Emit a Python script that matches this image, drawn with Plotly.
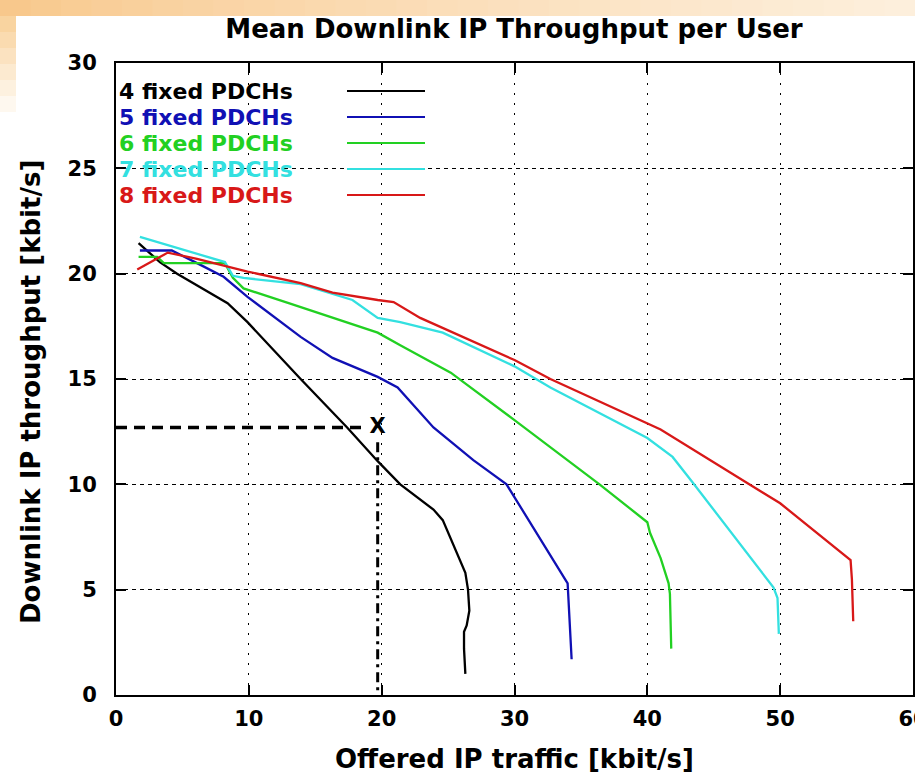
import plotly.graph_objects as go

# Offered IP traffic [kbit/s] vs. mean downlink IP throughput per user [kbit/s]
pdch4_x = [1.7, 3.3, 4.6, 8.4, 9.9, 13.9, 17.4, 19.7, 21.4, 23.9, 24.6, 26.3, 26.5, 26.6, 26.4, 26.2, 26.2, 26.3]
pdch4_y = [21.45, 20.55, 20.0, 18.6, 17.7, 15.0, 12.7, 11.1, 10.0, 8.8, 8.3, 5.8, 5.0, 4.0, 3.3, 3.0, 2.2, 1.0]

pdch5_x = [1.8, 4.2, 6.1, 8.1, 9.9, 13.9, 16.3, 19.7, 21.2, 23.9, 26.9, 29.4, 34.0, 34.1, 34.2, 34.3]
pdch5_y = [21.1, 21.1, 20.5, 19.85, 18.9, 17.0, 16.0, 15.1, 14.6, 12.7, 11.15, 10.0, 5.3, 4.0, 2.3, 1.7]

pdch6_x = [1.7, 3.1, 3.6, 8.2, 8.8, 9.6, 13.0, 16.3, 19.7, 21.4, 25.2, 30.0, 34.0, 36.4, 40.0, 40.2, 41.0, 41.6, 41.7, 41.8]
pdch6_y = [20.8, 20.8, 20.5, 20.5, 19.8, 19.3, 18.6, 17.9, 17.2, 16.6, 15.3, 13.05, 11.15, 10.0, 8.2, 7.7, 6.5, 5.3, 4.8, 2.2]

pdch7_x = [1.8, 8.2, 8.8, 9.6, 13.9, 17.8, 19.7, 21.4, 24.6, 30.0, 32.7, 40.0, 41.9, 43.4, 49.5, 49.8, 49.9]
pdch7_y = [21.75, 20.55, 19.9, 19.8, 19.5, 18.75, 17.9, 17.7, 17.2, 15.6, 14.6, 12.2, 11.3, 10.1, 5.1, 4.6, 2.9]

pdch8_x = [1.6, 3.9, 6.1, 9.9, 13.9, 16.3, 19.7, 20.9, 22.9, 30.0, 32.7, 40.0, 41.0, 50.0, 55.3, 55.4, 55.5]
pdch8_y = [20.2, 21.0, 20.7, 20.1, 19.55, 19.1, 18.75, 18.65, 17.9, 15.9, 15.0, 12.9, 12.6, 9.1, 6.4, 5.5, 3.5]

series_names = ["4 fixed PDCHs", "5 fixed PDCHs", "6 fixed PDCHs", "7 fixed PDCHs", "8 fixed PDCHs"]
series_x = [pdch4_x, pdch5_x, pdch6_x, pdch7_x, pdch8_x]
series_y = [pdch4_y, pdch5_y, pdch6_y, pdch7_y, pdch8_y]
series_colors = ["#000000", "#1010b4", "#22d022", "#33e0e0", "#d81818"]

# operating point
op_x = 19.7
op_y = 12.7
op_hline_end = 18.6
op_vline_top = 12.0

x_ticks = [0, 10, 20, 30, 40, 50, 60]
y_ticks = [0, 5, 10, 15, 20, 25, 30]

FONT = "DejaVu Sans"

fig = go.Figure()

# guide lines to the operating point
fig.add_trace(go.Scatter(
    x=[0, op_hline_end], y=[op_y, op_y], mode="lines",
    line=dict(color="black", width=3.5, dash="11px,7px"),
    hoverinfo="skip", showlegend=False))
fig.add_trace(go.Scatter(
    x=[op_x, op_x], y=[op_vline_top, 0], mode="lines",
    line=dict(color="black", width=3, dash="10px,5px,3px,5px"),
    hoverinfo="skip", showlegend=False))

for name, xs, ys, col in zip(series_names, series_x, series_y, series_colors):
    fig.add_trace(go.Scatter(
        x=xs, y=ys, mode="lines", name=name,
        line=dict(color=col, width=2.3), showlegend=False))

fig.add_trace(go.Scatter(
    x=[op_x], y=[op_y], mode="text", text=["X"],
    textfont=dict(family=FONT, size=21, color="black", weight="bold"),
    textposition="middle center", hoverinfo="skip", showlegend=False))

# plot geometry in pixels
W, H = 915, 775
L, R, T, B = 116, 2, 63, 80
PW, PH = W - L - R, H - T - B


def px_to_paper_x(px):
    return (px - L) / PW


def px_to_paper_y(py):
    return (H - B - py) / PH


shapes = []

# warm slide-background corner (top band and left strip)
def mix(c1, c2, t):
    return "rgb(%d,%d,%d)" % tuple(round(a + (b - a) * t) for a, b in zip(c1, c2))

c_left = (248, 200, 140)
c_right = (253, 240, 222)
n_seg = 30
for i in range(n_seg):
    x0 = W * i / n_seg
    x1 = W * (i + 1) / n_seg + 1
    shapes.append(dict(type="rect", xref="paper", yref="paper", layer="below",
                       x0=px_to_paper_x(x0), x1=px_to_paper_x(x1),
                       y0=px_to_paper_y(16), y1=px_to_paper_y(0),
                       line=dict(width=0), fillcolor=mix(c_left, c_right, (i / n_seg) ** 0.8)))
for j in range(6):
    y0 = 16 + j * 16
    shapes.append(dict(type="rect", xref="paper", yref="paper", layer="below",
                       x0=px_to_paper_x(0), x1=px_to_paper_x(16),
                       y0=px_to_paper_y(y0 + 16), y1=px_to_paper_y(y0),
                       line=dict(width=0),
                       fillcolor=mix((249, 212, 160), (255, 255, 255), j / 6)))

# opaque key box
shapes.append(dict(type="rect", xref="paper", yref="paper", layer="between",
                   x0=px_to_paper_x(117), x1=px_to_paper_x(440),
                   y0=px_to_paper_y(208), y1=px_to_paper_y(64),
                   line=dict(width=0), fillcolor="white"))

annotations = []
key_rows = [91, 117, 143, 169, 195]
for name, col, py in zip(series_names, series_colors, key_rows):
    annotations.append(dict(
        text=name, xref="paper", yref="paper",
        x=px_to_paper_x(117), y=px_to_paper_y(py),
        xanchor="left", yanchor="middle", showarrow=False,
        font=dict(family=FONT, size=22, color=col, weight="bold")))
    shapes.append(dict(type="line", xref="paper", yref="paper", layer="above",
                       x0=px_to_paper_x(347), x1=px_to_paper_x(425),
                       y0=px_to_paper_y(py), y1=px_to_paper_y(py),
                       line=dict(color=col, width=2)))

# axis titles
annotations.append(dict(
    text="Offered IP traffic [kbit/s]", xref="paper", yref="paper",
    x=px_to_paper_x(514), y=px_to_paper_y(759),
    xanchor="center", yanchor="middle", showarrow=False,
    font=dict(family=FONT, size=26, color="black", weight="bold")))
annotations.append(dict(
    text="Downlink IP throughput [kbit/s]", xref="paper", yref="paper",
    x=px_to_paper_x(31), y=px_to_paper_y(392),
    xanchor="center", yanchor="middle", showarrow=False, textangle=-90,
    font=dict(family=FONT, size=26, color="black", weight="bold")))

fig.update_layout(
    width=W, height=H,
    margin=dict(l=L, r=R, t=T, b=B, autoexpand=False),
    paper_bgcolor="white", plot_bgcolor="white",
    showlegend=False,
    title=dict(text="Mean Downlink IP Throughput per User",
               x=514 / W, xanchor="center",
               y=1 - 29 / H, yanchor="middle", yref="container",
               font=dict(family=FONT, size=26, color="black", weight="bold")),
    shapes=shapes, annotations=annotations,
)

axis_common = dict(
    showline=True, linecolor="black", linewidth=2, mirror="ticks",
    ticks="inside", ticklen=10, tickwidth=2, tickcolor="black",
    showgrid=True, gridcolor="black", gridwidth=1,
    zeroline=False, automargin=False, ticklabeloverflow="allow",
    tickfont=dict(family=FONT, size=21, color="black", weight="bold"),
)

fig.update_xaxes(range=[0, 60], tickvals=x_ticks, ticktext=[str(v) for v in x_ticks],
                 griddash="2px,8px", ticklabelstandoff=4, **axis_common)
fig.update_yaxes(range=[0, 30], tickvals=y_ticks, ticktext=[str(v) for v in y_ticks],
                 griddash="4px,4px", ticklabelstandoff=13, **axis_common)

fig.write_html("out.html")
